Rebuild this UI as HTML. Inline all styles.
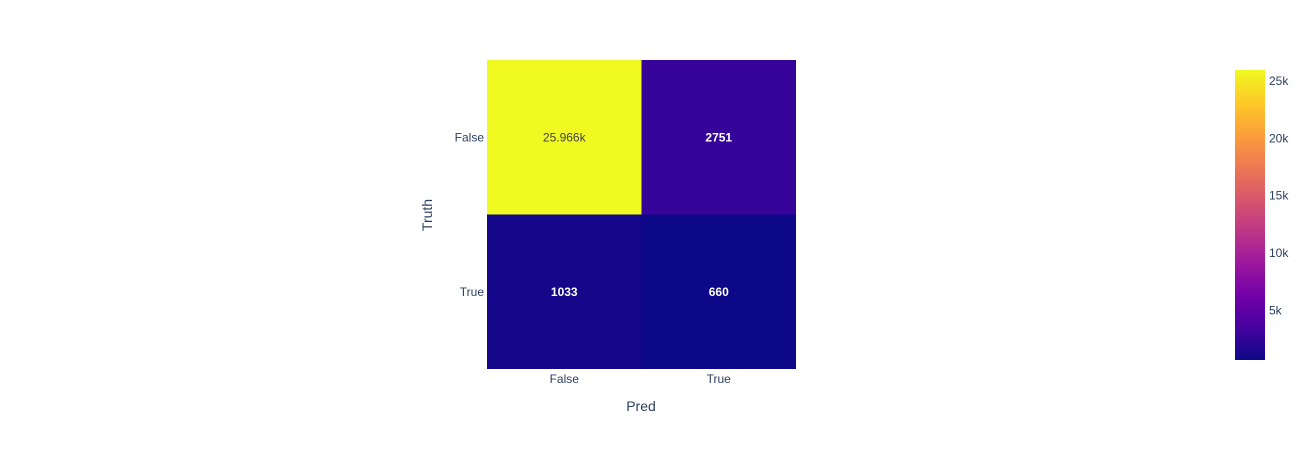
<!DOCTYPE html>
<html><head><meta charset="utf-8"><style>
body{margin:0;background:#fff;}
svg{display:block;font-family:"Liberation Sans",Arial,sans-serif;}
</style></head><body>
<svg id="chart" width="1310" height="450"></svg>
<script>
const xCats=["False","True"];
const yCats=["False","True"];
const zValues=[[25966,2751],[1033,660]];
const cellLabels=[["25.966k","2751"],["1033","660"]];
const cbTicks=[5000,10000,15000,20000,25000];
const cbTickLabels=["5k","10k","15k","20k","25k"];
const plasma=["#0d0887","#46039f","#7201a8","#9c179e","#bd3786","#d8576b","#ed7953","#fb9f3a","#fdca26","#f0f921"];
const NS="http://www.w3.org/2000/svg";
const svg=document.getElementById('chart');
function mk(t,a,p){const e=document.createElementNS(NS,t);for(const k in a)e.setAttribute(k,a[k]);(p||svg).appendChild(e);return e;}
let zmin=Infinity,zmax=-Infinity;zValues.forEach(r=>r.forEach(v=>{zmin=Math.min(zmin,v);zmax=Math.max(zmax,v);}));
function hex(h){return [1,3,5].map(i=>parseInt(h.substr(i,2),16));}
function color(v){let t=(v-zmin)/(zmax-zmin);t=Math.max(0,Math.min(1,t));const s=t*(plasma.length-1);const i=Math.min(Math.floor(s),plasma.length-2);const f=s-i;const a=hex(plasma[i]),b=hex(plasma[i+1]);return `rgb(${a.map((c,k)=>Math.round(c+(b[k]-c)*f)).join(',')})`;}
const X0=487,X1=796,Y0=60,Y1=369;
const cw=(X1-X0)/xCats.length,ch=(Y1-Y0)/yCats.length;
const xPos=i=>X0+i*cw, yPos=j=>Y0+j*ch;
zValues.forEach((row,j)=>row.forEach((v,i)=>{
  const r=mk('rect',{x:xPos(i),y:yPos(j),width:cw,height:ch,fill:color(v)});
  
  
  const light=(v-zmin)/(zmax-zmin)>0.5;
  const t=mk('text',{x:xPos(i)+cw/2,y:yPos(j)+ch/2+4,'text-anchor':'middle','font-size':12,fill:light?'#444':'#fff','font-weight':light?'normal':'bold'});
  t.textContent=cellLabels[j][i];
  
  
}));
xCats.forEach((c,i)=>{const t=mk('text',{x:xPos(i)+cw/2,y:383,'text-anchor':'middle','font-size':12,fill:'#2a3f5f'});t.textContent=c;

});
yCats.forEach((c,j)=>{const t=mk('text',{x:484,y:yPos(j)+ch/2+4,'text-anchor':'end','font-size':12,fill:'#2a3f5f'});t.textContent=c;

});
const xt=mk('text',{x:641,y:411,'text-anchor':'middle','font-size':14,fill:'#2a3f5f'});xt.textContent='Pred';


const yt=mk('text',{x:432,y:215,'text-anchor':'middle','font-size':14,fill:'#2a3f5f',transform:'rotate(-90 432 215)'});yt.textContent='Truth';


// colorbar
const CB0=70,CB1=360,CBX=1235,CBW=30;
const defs=mk('defs',{});const g=mk('linearGradient',{id:'cbg',x1:0,y1:1,x2:0,y2:0},defs);
plasma.forEach((c,i)=>mk('stop',{offset:i/(plasma.length-1),'stop-color':c},g));
const cb=mk('rect',{x:CBX,y:CB0,width:CBW,height:CB1-CB0,fill:'url(#cbg)'});


const cbY=v=>CB1-(v-zmin)/(zmax-zmin)*(CB1-CB0);
cbTicks.forEach((v,i)=>{const t=mk('text',{x:1269,y:cbY(v)+4,'font-size':12,fill:'#2a3f5f'});t.textContent=cbTickLabels[i];

});
</script>
</body></html>
